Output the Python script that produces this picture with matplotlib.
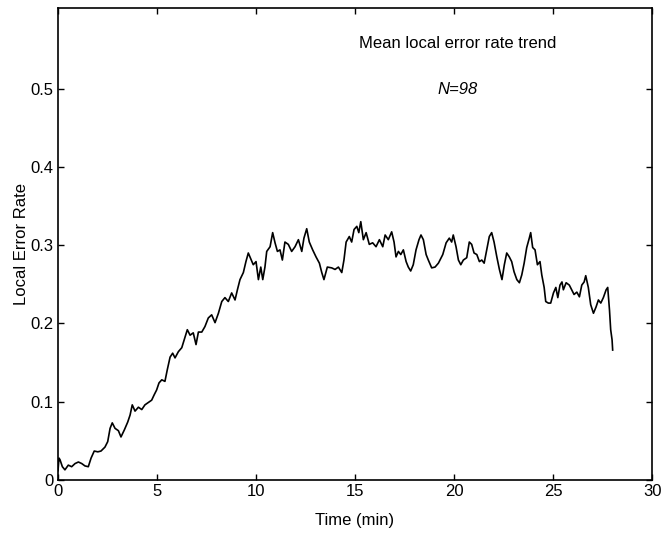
import matplotlib
matplotlib.use("Agg")
from matplotlib import pyplot as plt

plt.rcParams['font.family'] = ['Liberation Sans', 'DejaVu Sans']

# time (min) and mean local error rate
t = [0.00, 0.05, 0.10, 0.22, 0.35, 0.52, 0.69, 0.86, 1.03, 1.20, 1.36, 1.53, 1.67, 1.83, 2.01,
     2.17, 2.37, 2.51, 2.63, 2.74, 2.88, 3.05, 3.18, 3.35, 3.52, 3.64, 3.75, 3.89, 4.06, 4.23,
     4.39, 4.56, 4.73, 4.86, 4.98, 5.10, 5.24, 5.40, 5.52, 5.66, 5.79, 5.91, 6.08, 6.25, 6.41,
     6.53, 6.67, 6.83, 6.97, 7.09, 7.26, 7.42, 7.59, 7.76, 7.93, 8.10, 8.27, 8.43, 8.60, 8.77,
     8.94, 9.06, 9.19, 9.36, 9.49, 9.61, 9.86, 10.00, 10.12, 10.24, 10.34, 10.45, 10.54, 10.71,
     10.84, 10.96, 11.08, 11.21, 11.33, 11.46, 11.63, 11.80, 11.97, 12.14, 12.31, 12.42, 12.56,
     12.69, 12.86, 13.03, 13.20, 13.32, 13.43, 13.60, 13.82, 13.99, 14.16, 14.33, 14.44, 14.55,
     14.71, 14.83, 14.95, 15.09, 15.19, 15.29, 15.42, 15.56, 15.72, 15.89, 16.06, 16.23, 16.40,
     16.52, 16.68, 16.85, 16.97, 17.07, 17.19, 17.31, 17.44, 17.58, 17.69, 17.81, 17.94, 18.08,
     18.23, 18.33, 18.45, 18.59, 18.70, 18.87, 19.04, 19.21, 19.43, 19.60, 19.76, 19.88, 19.96,
     20.10, 20.22, 20.34, 20.47, 20.64, 20.77, 20.89, 21.01, 21.15, 21.28, 21.40, 21.52, 21.65,
     21.78, 21.90, 22.02, 22.16, 22.29, 22.42, 22.54, 22.66, 22.79, 22.91, 23.03, 23.17, 23.30,
     23.42, 23.54, 23.67, 23.80, 23.87, 23.97, 24.09, 24.21, 24.34, 24.43, 24.55, 24.63, 24.76,
     24.88, 25.02, 25.14, 25.24, 25.35, 25.45, 25.52, 25.66, 25.82, 25.94, 26.06, 26.20, 26.33,
     26.45, 26.57, 26.65, 26.78, 26.90, 27.04, 27.17, 27.29, 27.41, 27.54, 27.68, 27.76, 27.85,
     27.91, 27.98, 28.01]
rate = [0.012, 0.028, 0.026, 0.017, 0.013, 0.019, 0.017, 0.021, 0.023, 0.021, 0.018, 0.017, 0.028,
        0.037, 0.036, 0.037, 0.042, 0.049, 0.066, 0.073, 0.066, 0.063, 0.055, 0.064, 0.074, 0.083,
        0.096, 0.088, 0.093, 0.090, 0.096, 0.099, 0.102, 0.109, 0.115, 0.124, 0.128, 0.126, 0.141,
        0.157, 0.162, 0.156, 0.164, 0.169, 0.182, 0.192, 0.185, 0.188, 0.173, 0.189, 0.189, 0.196,
        0.207, 0.211, 0.201, 0.213, 0.228, 0.233, 0.228, 0.239, 0.230, 0.243, 0.256, 0.265, 0.279,
        0.290, 0.275, 0.279, 0.256, 0.272, 0.256, 0.272, 0.292, 0.298, 0.316, 0.303, 0.292, 0.294,
        0.281, 0.304, 0.301, 0.292, 0.298, 0.307, 0.292, 0.309, 0.321, 0.304, 0.294, 0.285, 0.277,
        0.265, 0.256, 0.272, 0.271, 0.269, 0.272, 0.265, 0.281, 0.304, 0.311, 0.304, 0.320, 0.324,
        0.316, 0.330, 0.307, 0.316, 0.301, 0.303, 0.298, 0.307, 0.298, 0.313, 0.307, 0.317, 0.304,
        0.285, 0.292, 0.288, 0.294, 0.279, 0.272, 0.267, 0.275, 0.294, 0.307, 0.313, 0.307, 0.288,
        0.281, 0.271, 0.272, 0.277, 0.288, 0.303, 0.309, 0.304, 0.313, 0.298, 0.281, 0.275, 0.281,
        0.284, 0.304, 0.301, 0.290, 0.288, 0.279, 0.281, 0.277, 0.294, 0.311, 0.316, 0.304, 0.285,
        0.269, 0.256, 0.275, 0.290, 0.285, 0.279, 0.266, 0.256, 0.252, 0.262, 0.277, 0.297, 0.309,
        0.316, 0.297, 0.294, 0.275, 0.279, 0.262, 0.246, 0.228, 0.226, 0.226, 0.239, 0.246, 0.233,
        0.249, 0.253, 0.243, 0.252, 0.249, 0.243, 0.237, 0.240, 0.234, 0.249, 0.253, 0.261, 0.246,
        0.224, 0.213, 0.221, 0.230, 0.226, 0.233, 0.243, 0.246, 0.217, 0.192, 0.179, 0.166]

xticks = [0, 5, 10, 15, 20, 25, 30]
yticks = [0, 0.1, 0.2, 0.3, 0.4, 0.5]
ytick_labels = ['0', '0.1', '0.2', '0.3', '0.4', '0.5']

fig = plt.figure(figsize=(6.69, 5.34), dpi=100)
ax = fig.add_axes([0.0867, 0.1011, 0.888, 0.884])
ax.plot(t, rate, color='black', linewidth=1.2)

ax.set_xlim(0, 30)
ax.set_ylim(0, 0.603)
ax.set_xticks(xticks)
ax.set_yticks(yticks)
ax.set_yticklabels(ytick_labels)
ax.tick_params(direction='in', length=4, width=1, top=True, right=True,
               labelsize=12, pad=3)
for s in ax.spines.values():
    s.set_linewidth(1.2)

ax.set_xlabel('Time (min)', fontsize=12, labelpad=10)
ax.set_ylabel('Local Error Rate', fontsize=12, labelpad=1)

ax.text(20.2, 0.557, 'Mean local error rate trend', fontsize=12, ha='center', va='center')
ax.text(20.2, 0.499, 'N=98', fontsize=12, ha='center', va='center', style='italic')

fig.savefig('out.png', dpi=100)
